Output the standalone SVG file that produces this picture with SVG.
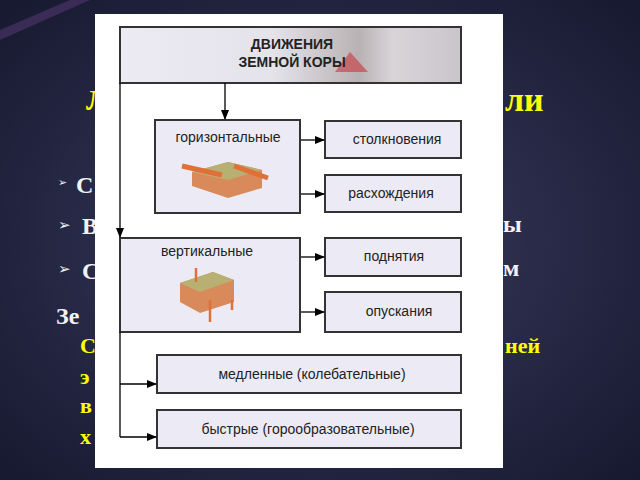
<svg xmlns="http://www.w3.org/2000/svg" width="640" height="480" viewBox="0 0 640 480">
<defs>
<radialGradient id="bg" cx="50%" cy="50%" r="70%"><stop offset="0" stop-color="#3a3d60"/><stop offset="1" stop-color="#171930"/></radialGradient>
<linearGradient id="hd" x1="0" x2="1"><stop offset="0" stop-color="#ecebf4"/><stop offset="0.45" stop-color="#e4e3ea"/><stop offset="0.7" stop-color="#b9b2b4"/><stop offset="0.8" stop-color="#d8d4d8"/><stop offset="1" stop-color="#c9c5cb"/></linearGradient>
<marker id="ar" markerWidth="10" markerHeight="8" refX="9" refY="4" orient="auto" markerUnits="userSpaceOnUse"><path d="M0,0 L10,4 L0,8 Z" fill="#000"/></marker>
<style>
.box{fill:#ecebf5;stroke:#333;stroke-width:2}
.t{font-family:"Liberation Sans",Arial,sans-serif;font-size:14px;fill:#222}
.c{stroke:#000;stroke-width:1.3;fill:none;marker-end:url(#ar)}
.w{font-family:"Liberation Serif",serif;font-weight:bold;font-size:24px;fill:#f2f2f2}
.y{font-family:"Liberation Serif",serif;font-weight:bold;font-size:22px;fill:#ffff00}
.b{font-family:"DejaVu Sans",sans-serif;font-size:15px;fill:#f2f2f2}
</style>
</defs>
<rect width="640" height="480" fill="url(#bg)"/>
<path d="M0,30 L70,0 L90,0 L0,40 Z" fill="#5a3c7a" opacity="0.5"/>
<text x="86" y="110" class="y" style="font-size:30px">Л</text>
<text x="505" y="111" class="y" style="font-size:34px">ли</text>
<text x="58" y="186" class="b" style="font-size:11px">➢</text>
<text x="76" y="193" class="w">С</text>
<text x="58" y="230" class="b">➢</text>
<text x="82" y="234" class="w">В</text>
<text x="503" y="232" class="w">ы</text>
<text x="58" y="274" class="b">➢</text>
<text x="82" y="279" class="w">С</text>
<text x="503" y="276" class="w">м</text>
<text x="56" y="324" class="w">Зе</text>
<text x="80" y="353" class="y">С</text>
<text x="505" y="353" class="y">ней</text>
<text x="80" y="384" class="y">э</text>
<text x="80" y="413" class="y">в</text>
<text x="80" y="444" class="y">х</text>
<rect x="95" y="14" width="408" height="454" fill="#fff"/>
<g id="header"><rect x="120" y="27" width="341" height="56" fill="url(#hd)" stroke="#333" stroke-width="2"/><path d="M335,72 L350,52 L368,72 Z" fill="#c8343a" opacity="0.6"/><text x="292" y="49" text-anchor="middle" class="t" style="font-weight:bold">ДВИЖЕНИЯ</text><text x="292" y="67" text-anchor="middle" class="t" style="font-weight:bold">ЗЕМНОЙ КОРЫ</text></g>
<g id="horiz"><rect class="box" x="155" y="120" width="145" height="93"/><text x="228" y="142" text-anchor="middle" class="t">горизонтальные</text>
<path d="M192,172 L228,162 L262,170 L262,188 L228,198 L192,186 Z" fill="#d98a5a"/><path d="M192,172 L228,162 L262,170 L228,180 Z" fill="#b8b072"/><path d="M182,166 L222,175 M234,166 L268,178" stroke="#e0703a" stroke-width="5"/></g>
<g id="s1"><rect class="box" x="325" y="121" width="136" height="37"/><text x="397" y="144" text-anchor="middle" class="t">столкновения</text></g>
<g id="s2"><rect class="box" x="325" y="175" width="136" height="37"/><text x="391" y="198" text-anchor="middle" class="t">расхождения</text></g>
<g id="vert"><rect class="box" x="120" y="238" width="180" height="94"/><text x="207" y="256" text-anchor="middle" class="t">вертикальные</text>
<path d="M180,283 L213,272 L234,280 L234,302 L200,313 L180,302 Z" fill="#d98a5a"/><path d="M180,283 L213,272 L234,280 L200,292 Z" fill="#b8b072"/><path d="M196,268 L196,282 M210,300 L210,322 M232,300 L232,310" stroke="#e0703a" stroke-width="2.5"/></g>
<g id="p1"><rect class="box" x="325" y="238" width="136" height="38"/><text x="394" y="261" text-anchor="middle" class="t">поднятия</text></g>
<g id="p2"><rect class="box" x="325" y="292" width="136" height="40"/><text x="399" y="316" text-anchor="middle" class="t">опускания</text></g>
<g id="slow"><rect class="box" x="157" y="355" width="304" height="38"/><text x="312" y="379" text-anchor="middle" class="t">медленные (колебательные)</text></g>
<g id="fast"><rect class="box" x="157" y="410" width="304" height="38"/><text x="308" y="434" text-anchor="middle" class="t">быстрые (горообразовательные)</text></g>
<g id="connectors">
<path class="c" d="M225,83 L225,119"/>
<path class="c" d="M120,83 L120,237"/>
<path d="M120,332 L120,437" stroke="#000" stroke-width="1.3"/>
<path class="c" d="M120,384 L156,384"/>
<path class="c" d="M120,437 L156,437"/>
<path class="c" d="M301,140 L324,140"/>
<path class="c" d="M301,194 L324,194"/>
<path class="c" d="M301,257 L324,257"/>
<path class="c" d="M301,312 L324,312"/>
</g>
</svg>
